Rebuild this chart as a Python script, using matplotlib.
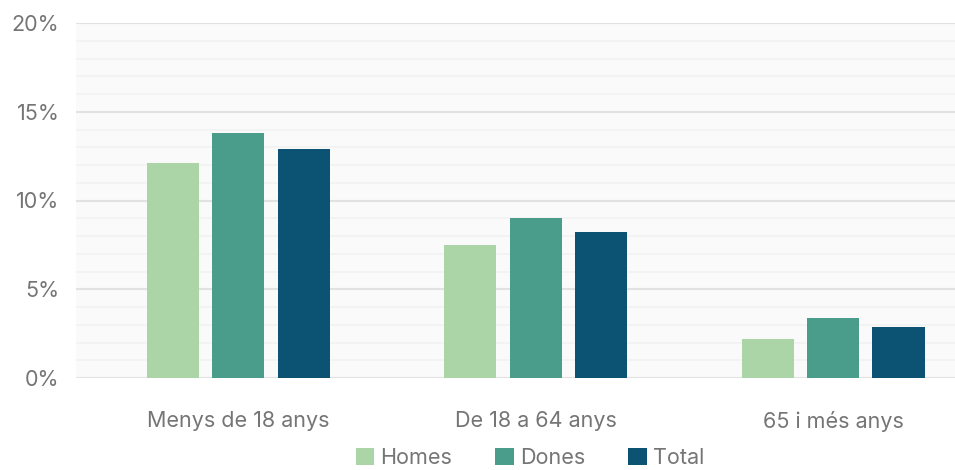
import numpy as np
import matplotlib.pyplot as plt
from matplotlib.ticker import MultipleLocator, FuncFormatter

categories = ["Menys de 18 anys", "De 18 a 64 anys", "65 i més anys"]
series = ["Homes", "Dones", "Total"]
homes = [12.1, 7.5, 2.2]
dones = [13.8, 9.0, 3.4]
total = [12.9, 8.2, 2.9]
colors = ["#abd4a7", "#4a9d8a", "#0b5273"]

plt.rcParams['font.family'] = ['Inter', 'DejaVu Sans']
text_color = "#757575"

fig = plt.figure(figsize=(9.55, 4.7), dpi=100)
ax = fig.add_axes([76/955, 1 - 378/470, 1 - 76/955, (378 - 23)/470])
ax.set_facecolor("#fafafa")

x = np.arange(len(categories))
width = 0.175
step = 0.22
for i, (name, vals) in enumerate(zip(series, [homes, dones, total])):
    ax.bar(x + (i - 1) * step, vals, width, color=colors[i], label=name, zorder=3)

ax.set_ylim(0, 20)
ax.set_xlim(-0.545, 2.41)
ax.yaxis.set_major_locator(MultipleLocator(5))
ax.yaxis.set_minor_locator(MultipleLocator(1))
ax.yaxis.set_major_formatter(FuncFormatter(lambda v, p: f"{v:.0f}%"))
ax.grid(axis="y", which="major", color="#e2e2e2", linewidth=1.5, zorder=1)
ax.grid(axis="y", which="minor", color="#f2f2f2", linewidth=1.2, zorder=1)
ax.set_xticks(x)
ax.set_xticklabels(categories)
ax.tick_params(axis="both", which="both", length=0, labelsize=15.5, colors=text_color)
ax.tick_params(axis="y", pad=12)
ax.tick_params(axis="x", pad=24)
for s in ax.spines.values():
    s.set_visible(False)

fig.legend(loc="upper center", bbox_to_anchor=(0.555, 0.047), ncol=3, frameon=False,
           borderaxespad=0, borderpad=0,
           fontsize=15.5, labelcolor=text_color, handlelength=0.85, handleheight=0.85,
           handletextpad=0.3, columnspacing=2.0)

fig.savefig("out.png", dpi=100)
